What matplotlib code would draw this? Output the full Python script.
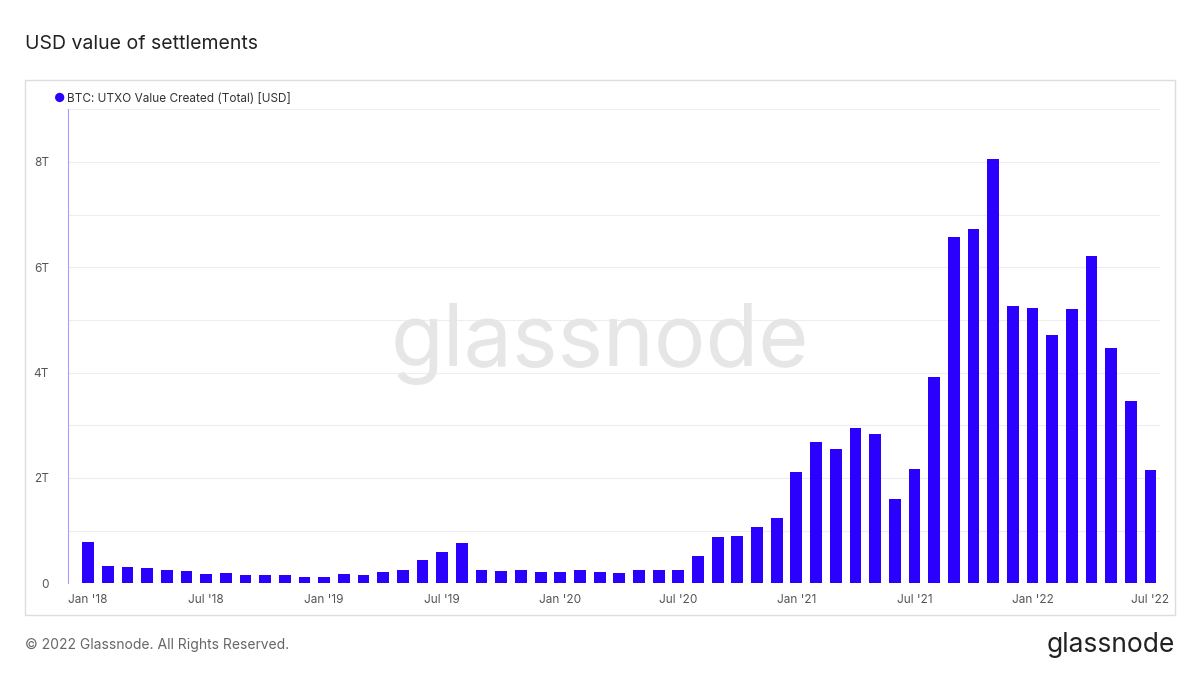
import matplotlib.pyplot as plt
import pandas as pd
from matplotlib.patches import Rectangle

months = pd.date_range('2018-01-01', '2022-07-01', freq='MS')
values = [0.79, 0.32, 0.30, 0.28, 0.26, 0.23, 0.17, 0.19, 0.15, 0.15, 0.15, 0.12,
          0.12, 0.17, 0.15, 0.21, 0.26, 0.45, 0.60, 0.77, 0.26, 0.23, 0.25, 0.21,
          0.21, 0.25, 0.21, 0.19, 0.25, 0.25, 0.26, 0.51, 0.87, 0.89, 1.07, 1.24,
          2.11, 2.69, 2.54, 2.94, 2.84, 1.60, 2.17, 3.92, 6.57, 6.72, 8.06, 5.27,
          5.22, 4.71, 5.20, 6.21, 4.46, 3.47, 2.15]
tick_idx = list(range(0, 55, 6))
tick_labels = ["Jan '18", "Jul '18", "Jan '19", "Jul '19", "Jan '20",
               "Jul '20", "Jan '21", "Jul '21", "Jan '22", "Jul '22"]

plt.rcParams['font.family'] = ['Inter', 'DejaVu Sans']
color = '#2b00ff'
fig = plt.figure(figsize=(12, 6.75), dpi=100, facecolor='white')
fig.patches.append(Rectangle((0.021, 0.089), 0.958, 0.792, transform=fig.transFigure,
                             fill=False, edgecolor='#dddddd', linewidth=1))
ax = fig.add_axes([0.057, 0.136, 0.910, 0.702])

x = list(range(len(values)))
ax.bar(x, values, width=0.6, color=color, zorder=3)
ax.set_xlim(-1, len(values) - 0.5)
ax.set_ylim(0, 9)
ax.set_yticks(range(0, 10))
ax.set_yticklabels(['0', '', '2T', '', '4T', '', '6T', '', '8T', ''])
ax.set_xticks(tick_idx)
ax.set_xticklabels(tick_labels)
ax.grid(axis='y', color='#eeeeee', linewidth=0.8, zorder=0)
for s in ['top', 'right', 'bottom']:
    ax.spines[s].set_visible(False)
ax.spines['left'].set_color('#a89cff')
ax.spines['left'].set_linewidth(0.8)
ax.tick_params(axis='both', length=0, labelsize=8.5, colors='#555555')
ax.tick_params(axis='y', pad=14)
ax.tick_params(axis='x', pad=8)

fig.text(0.021, 0.935, 'USD value of settlements', fontsize=14, color='#222222', va='center')
fig.text(0.045, 0.853, '●', fontsize=9, color=color, va='center')
fig.text(0.056, 0.853, 'BTC: UTXO Value Created (Total) [USD]', fontsize=8.5, color='#333333', va='center')
fig.text(0.5, 0.49, 'glassnode', fontsize=62, color='#e6e6e6', ha='center', va='center', zorder=0)
fig.text(0.021, 0.044, '© 2022 Glassnode. All Rights Reserved.', fontsize=10, color='#666666', va='center')
fig.text(0.979, 0.044, 'glassnode', fontsize=19, color='#222222', ha='right', va='center')

plt.savefig('out.png', dpi=100, facecolor='white')
